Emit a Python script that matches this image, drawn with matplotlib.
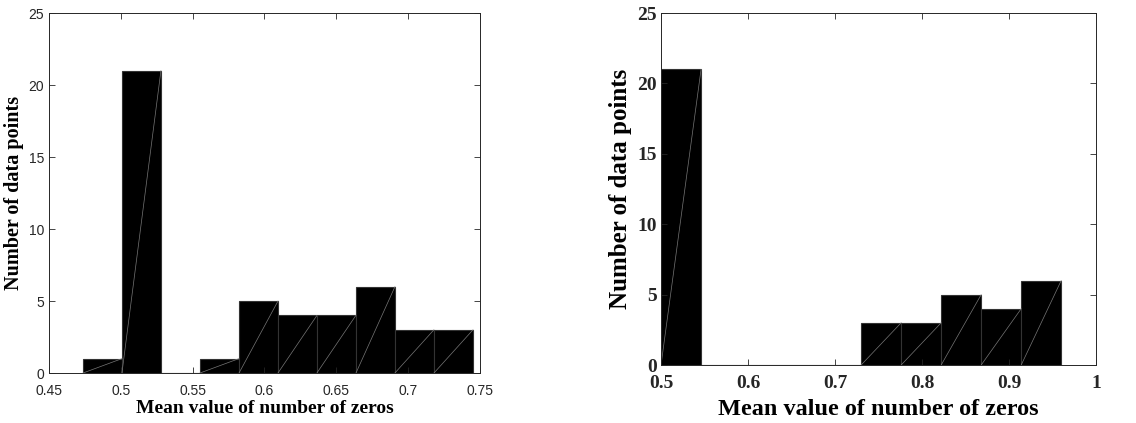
import numpy as np
import matplotlib
matplotlib.use("Agg")
import matplotlib.pyplot as plt

# histogram data
left_edges = [0.4737, 0.5008, 0.5280, 0.5551, 0.5823, 0.6094, 0.6365, 0.6637, 0.6908, 0.7180]
left_counts = [1, 21, 0, 1, 5, 4, 4, 6, 3, 3]
left_width = 0.02714

right_edges = [0.5, 0.546, 0.592, 0.638, 0.684, 0.730, 0.776, 0.822, 0.868, 0.914]
right_counts = [21, 0, 0, 0, 0, 3, 3, 5, 4, 6]
right_width = 0.046

left_xticks = [0.45, 0.5, 0.55, 0.6, 0.65, 0.7, 0.75]
left_xticklabels = ['0.45', '0.5', '0.55', '0.6', '0.65', '0.7', '0.75']
right_xticks = [0.5, 0.6, 0.7, 0.8, 0.9, 1.0]
right_xticklabels = ['0.5', '0.6', '0.7', '0.8', '0.9', '1']
yticks = [0, 5, 10, 15, 20, 25]

serif = ['Liberation Serif', 'DejaVu Serif']
sans = ['Liberation Sans', 'DejaVu Sans']

fig = plt.figure(figsize=(11.36, 4.23), dpi=100)
ax1 = fig.add_axes([0.0431, 0.1182, 0.3794, 0.851])
ax2 = fig.add_axes([0.5819, 0.1371, 0.3829, 0.832])


def draw_hist(ax, edges, counts, width):
    ax.bar(edges, counts, width=width, align='edge', color='black',
           edgecolor='#333333', linewidth=0.8)
    # faint diagonal seams seen inside each bar
    for x, c in zip(edges, counts):
        if c > 0:
            ax.plot([x, x + width], [0, c], color='#777777', lw=0.5)


draw_hist(ax1, left_edges, left_counts, left_width)
ax1.set_xlim(0.45, 0.75)
ax1.set_ylim(0, 25)
ax1.set_xticks(left_xticks)
ax1.set_xticklabels(left_xticklabels, family=sans, fontsize=10)
ax1.set_yticks(yticks)
ax1.set_yticklabels([str(t) for t in yticks], family=sans, fontsize=10)
ax1.set_xlabel('Mean value of number of zeros', family=serif, fontweight='bold',
               fontsize=14, labelpad=1)
ax1.set_ylabel('Number of data points', family=serif, fontweight='bold',
               fontsize=14.5, labelpad=3)

draw_hist(ax2, right_edges, right_counts, right_width)
ax2.set_xlim(0.5, 1.0)
ax2.set_ylim(0, 25)
ax2.set_xticks(right_xticks)
ax2.set_xticklabels(right_xticklabels, family=serif, fontweight='bold', fontsize=14)
ax2.set_yticks(yticks)
ax2.set_yticklabels([str(t) for t in yticks], family=serif, fontweight='bold', fontsize=14)
ax2.set_xlabel('Mean value of number of zeros', family=serif, fontweight='bold',
               fontsize=17.5, labelpad=5)
ax2.set_ylabel('Number of data points', family=serif, fontweight='bold',
               fontsize=18, labelpad=4)

for ax in (ax1, ax2):
    ax.tick_params(direction='in', top=True, right=True, length=4, width=0.6,
                   colors='#262626')
    for s in ax.spines.values():
        s.set_linewidth(0.7)
        s.set_color('#262626')
ax1.tick_params(axis='x', pad=8)
ax2.tick_params(axis='x', pad=7)
ax2.tick_params(axis='y', pad=3)

fig.savefig('out.png', dpi=100)
